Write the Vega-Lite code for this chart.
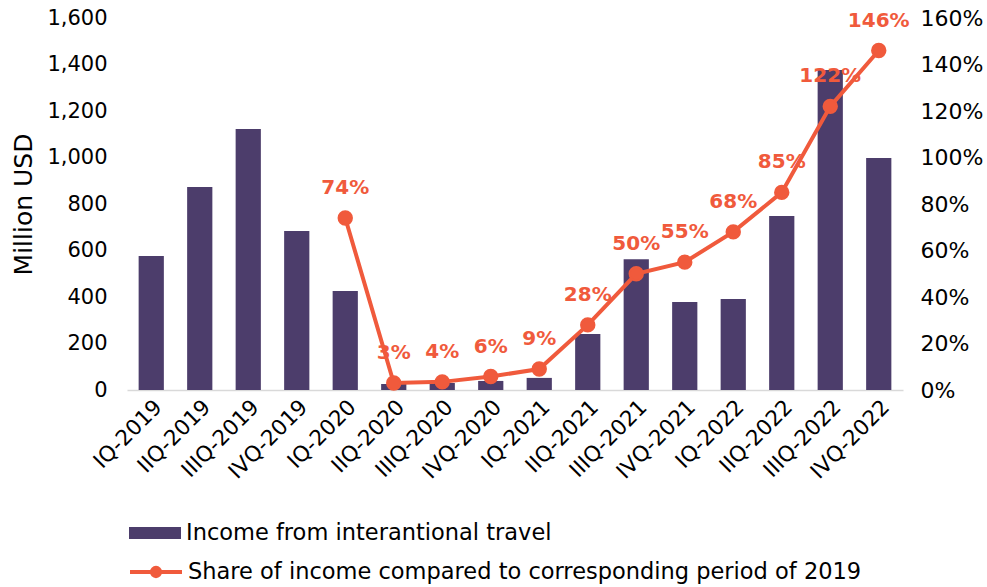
{
  "$schema": "https://vega.github.io/schema/vega-lite/v6.json",
  "width": 776,
  "height": 372,
  "autosize": {"type": "none"},
  "padding": {"left": 127, "top": 18, "right": 84, "bottom": 197},
  "background": "white",
  "config": {"view": {"stroke": null}, "font": "DejaVu Sans"},
  "data": {
    "values": [
      {"quarter": "IQ-2019", "income": 576, "share": null},
      {"quarter": "IIQ-2019", "income": 873, "share": null},
      {"quarter": "IIIQ-2019", "income": 1123, "share": null},
      {"quarter": "IVQ-2019", "income": 684, "share": null},
      {"quarter": "IQ-2020", "income": 426, "share": 0.74},
      {"quarter": "IIQ-2020", "income": 26, "share": 0.03},
      {"quarter": "IIIQ-2020", "income": 30, "share": 0.035},
      {"quarter": "IVQ-2020", "income": 39, "share": 0.058},
      {"quarter": "IQ-2021", "income": 52, "share": 0.09},
      {"quarter": "IIQ-2021", "income": 241, "share": 0.28},
      {"quarter": "IIIQ-2021", "income": 562, "share": 0.5},
      {"quarter": "IVQ-2021", "income": 378, "share": 0.55},
      {"quarter": "IQ-2022", "income": 391, "share": 0.68},
      {"quarter": "IIQ-2022", "income": 748, "share": 0.85},
      {"quarter": "IIIQ-2022", "income": 1376, "share": 1.22},
      {"quarter": "IVQ-2022", "income": 998, "share": 1.46}
    ]
  },
  "layer": [
    {
      "mark": {"type": "bar", "width": {"band": 0.52}},
      "encoding": {
        "x": {
          "field": "quarter", "type": "nominal", "sort": null,
          "scale": {"paddingInner": 0, "paddingOuter": 0},
          "axis": {"title": null, "labelAngle": -45, "labelFontSize": 21.5, "labelColor": "#000000", "domainColor": "#d9d9d9", "domainWidth": 1.5, "ticks": false, "labelPadding": 6}
        },
        "y": {
          "field": "income", "type": "quantitative",
          "scale": {"domain": [0, 1600]},
          "axis": {"title": "Million USD", "titleFontSize": 25, "titleFontWeight": "normal", "titleColor": "#000000", "titlePadding": 10, "values": [0, 200, 400, 600, 800, 1000, 1200, 1400, 1600], "format": ",.0f", "labelFontSize": 21, "labelColor": "#000000", "domain": false, "ticks": false, "grid": false, "labelPadding": 20}
        },
        "color": {
          "datum": "Income from interantional travel",
          "scale": {"range": ["#4C3D6B"]},
          "legend": {"orient": "none", "legendX": 1, "legendY": 488, "title": null, "symbolType": "M-1,-0.23H1V0.23H-1Z", "symbolSize": 2704, "labelFontSize": 22.5, "labelColor": "#000000", "labelOffset": 4, "labelLimit": 900}
        }
      }
    },
    {
      "transform": [{"filter": "datum.share != null"}],
      "layer": [
        {
          "mark": {"type": "line", "strokeWidth": 4, "point": {"size": 180, "filled": true, "color": "#F05A3C"}},
          "encoding": {
            "x": {"field": "quarter", "type": "nominal", "sort": null},
            "y": {
              "field": "share", "type": "quantitative",
              "scale": {"domain": [0, 1.6]},
              "axis": {"orient": "right", "title": null, "values": [0, 0.2, 0.4, 0.6, 0.8, 1.0, 1.2, 1.4, 1.6], "format": ".0%", "labelFontSize": 22, "labelColor": "#000000", "domain": false, "ticks": false, "grid": false, "labelPadding": 17}
            },
            "stroke": {
              "datum": "Share of income compared to corresponding period of 2019",
              "scale": {"range": ["#F05A3C"]},
              "legend": {"orient": "none", "legendX": 1, "legendY": 526, "title": null, "symbolType": "M-1,0H1M0.16,0A0.16,0.16 0 1 1 -0.16,0A0.16,0.16 0 1 1 0.16,0Z", "symbolSize": 2704, "symbolStrokeWidth": 4, "symbolFillColor": "#F05A3C", "labelFontSize": 22.5, "labelColor": "#000000", "labelOffset": 4, "labelLimit": 900}
            }
          }
        },
        {
          "mark": {"type": "text", "dy": -30, "fontWeight": "bold", "fontSize": 20, "color": "#F05A3C"},
          "encoding": {
            "x": {"field": "quarter", "type": "nominal", "sort": null},
            "y": {"field": "share", "type": "quantitative"},
            "text": {"field": "share", "type": "quantitative", "format": ".0%"}
          }
        }
      ]
    }
  ],
  "resolve": {"scale": {"y": "independent", "color": "independent", "stroke": "independent"}}
}
